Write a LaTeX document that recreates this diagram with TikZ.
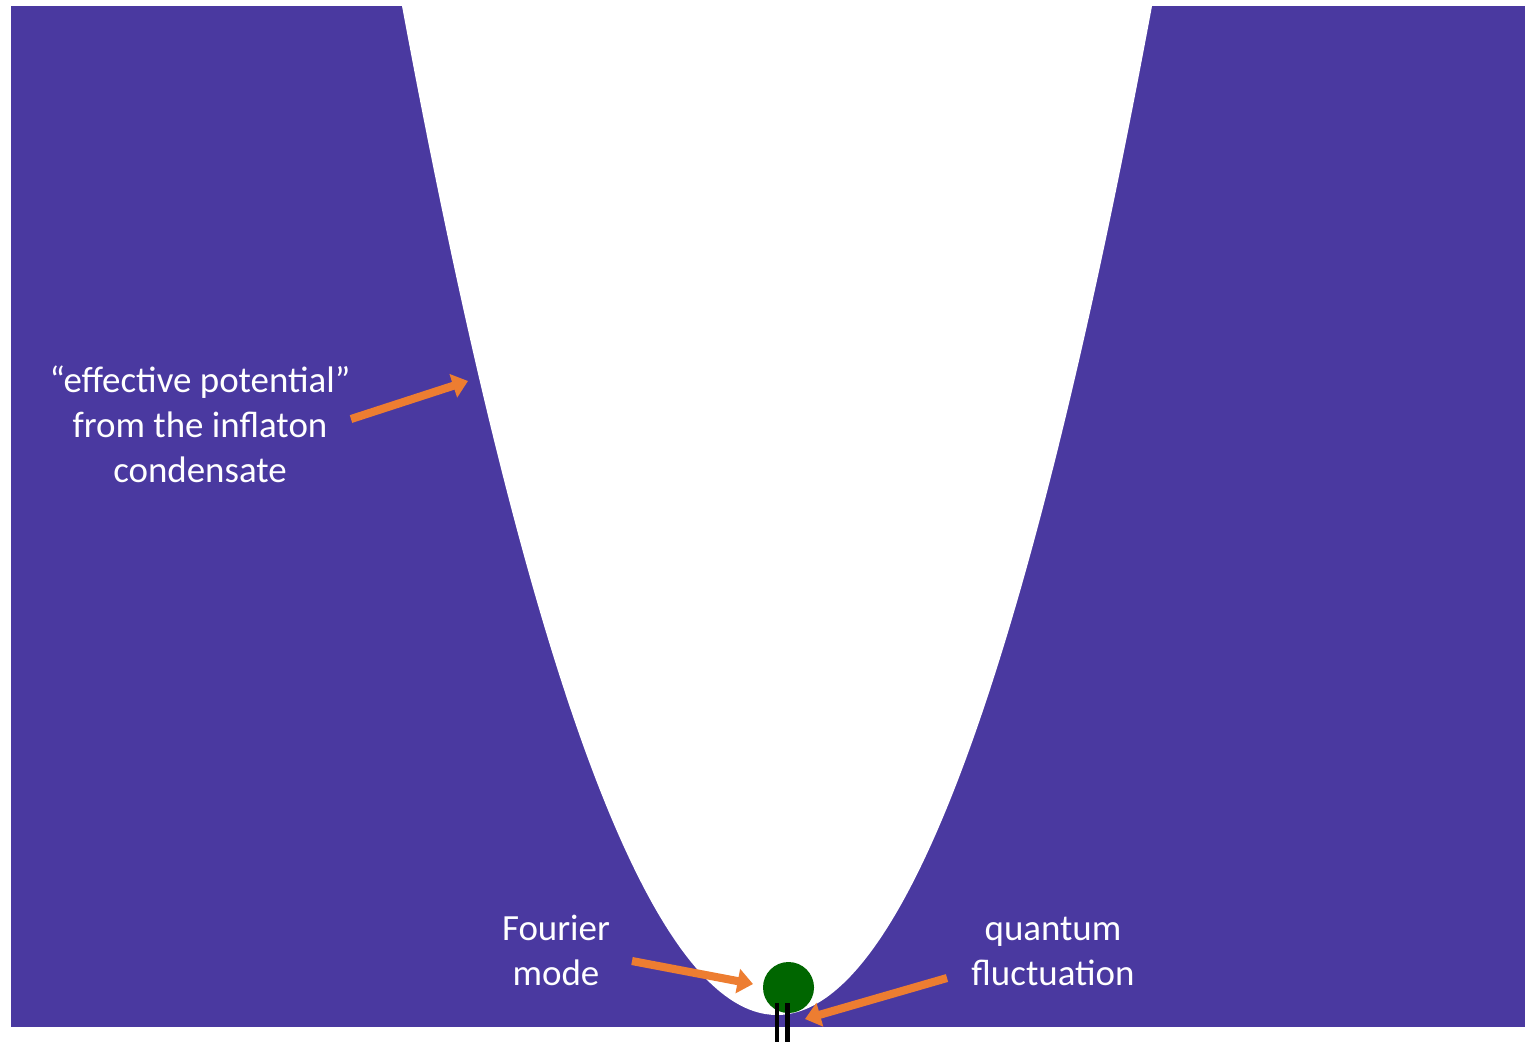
\documentclass[tikz,border=0pt]{standalone}
\usepackage{fontspec}
\setmainfont{Carlito}
\usepackage{xcolor}
\definecolor{wellpurple}{HTML}{4A39A0}
\definecolor{ballgreen}{HTML}{006600}
\definecolor{arrorange}{HTML}{ED7D31}
\usetikzlibrary{arrows.meta}
\tikzset{
  lbl/.style={text=white, align=center, inner sep=0pt,
              font=\fontsize{10.5}{12.8}\selectfont},
  ar/.style={-{Triangle[length=4.4pt,width=6.8pt]}, draw=arrorange, line width=2.3pt},
  stem/.style={draw=black, line width=1.2pt},
}

\begin{document}
\begin{tikzpicture}[x=0.01cm, y=-0.01cm]
  \useasboundingbox (0,0) rectangle (1525,1042);
  \fill[wellpurple] (11,6) rectangle (1525,1027);
  \fill[white] (402,6) .. controls (652,1351.3) and (902,1351.3) .. (1152,6) -- cycle;
  \node[circle, fill=ballgreen, minimum size=0.51cm, inner sep=0pt] (ball) at (788.5,987.5) {};
  \draw[stem] (777,1003) -- (777,1042);
  \draw[stem] (787.5,1003) -- (787.5,1042);
  \node[lbl] (pot) at (200,424) {“effective potential”\\from the inflaton\\condensate};
  \node[lbl] (fourier) at (556,950) {Fourier\\mode};
  \node[lbl] (quant) at (1053,951) {quantum\\fluctuation};
  \coordinate (potTail) at (351,419);
  \coordinate (potTip) at (468,381);
  \coordinate (fourTail) at (632,961);
  \coordinate (fourTip) at (753,984);
  \coordinate (quantTail) at (947,978);
  \coordinate (quantTip) at (805,1019);
  \draw[ar] (potTail) -- (potTip);
  \draw[ar] (fourTail) -- (fourTip);
  \draw[ar] (quantTail) -- (quantTip);
\end{tikzpicture}
\end{document}
